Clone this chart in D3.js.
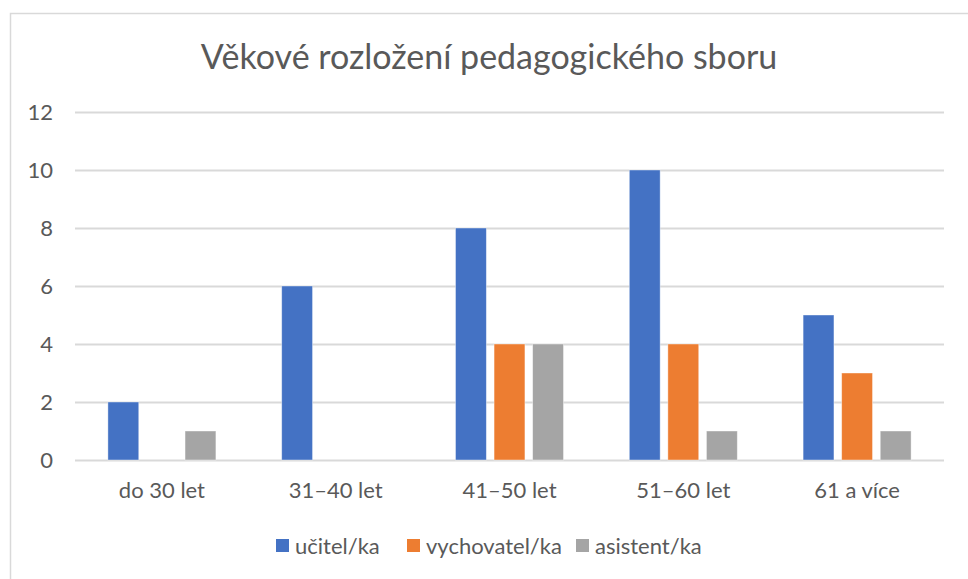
<!DOCTYPE html>
<html>
<head>
<meta charset="utf-8">
<script src="https://cdn.jsdelivr.net/npm/d3@7"></script>
<style>
  html, body { margin: 0; padding: 0; background: #fff; }
  svg { display: block; }
</style>
</head>
<body>
<svg id="chart" width="968" height="579"></svg>
<script>
// Data
const categories = ['do 30 let', '31–40 let', '41–50 let', '51–60 let', '61 a více'];
const seriesNames = ['učitel/ka', 'vychovatel/ka', 'asistent/ka'];
const ucitel = [2, 6, 8, 10, 5];
const vychovatel = [0, 0, 4, 4, 3];
const asistent = [1, 0, 4, 1, 1];
const yTicks = [0, 2, 4, 6, 8, 10, 12];
const colors = ['#4472C4', '#ED7D31', '#A5A5A5'];

const seriesValues = [ucitel, vychovatel, asistent];

const width = 968, height = 579;
const margins = { top: 112, right: 24, bottom: 119, left: 75 };
const font = 'Lato, "Open Sans", sans-serif';
const textColor = '#595959';
const gridColor = '#D9D9D9';

const translate = (x, y) => `translate(${x}, ${y})`;

const svg = d3.select('#chart');

// Chart frame (right and bottom edges fall outside the picture)
svg.append('rect')
    .attr('x', 10.5)
    .attr('y', 13.5)
    .attr('width', 1000)
    .attr('height', 1000)
    .attr('fill', '#fff')
    .attr('stroke', gridColor)
    .attr('stroke-width', 1.5);

// Title
svg.append('text')
    .attr('x', 489)
    .attr('y', 69)
    .attr('text-anchor', 'middle')
    .attr('font-family', font)
    .attr('font-size', 34)
    .attr('fill', textColor)
    .text('Věkové rozložení pedagogického sboru');

// Scales
const x0 = d3.scaleBand()
    .domain(categories)
    .range([margins.left, width - margins.right]);

const groupWidth = 108;
const x1 = d3.scaleBand()
    .domain(seriesNames)
    .range([(x0.bandwidth() - groupWidth) / 2, (x0.bandwidth() + groupWidth) / 2])
    .paddingInner(0.2);

const y = d3.scaleLinear()
    .domain([0, 12])
    .range([height - margins.bottom, margins.top]);

// Gridlines + y labels
const yAxis = d3.axisLeft(y)
    .tickValues(yTicks)
    .tickSize(-(width - margins.left - margins.right))
    .tickPadding(22)
    .tickFormat(d3.format('d'));

svg.append('g')
    .attr('transform', translate(margins.left, 0))
    .call(yAxis)
    .call(g => g.select('.domain').remove())
    .call(g => g.selectAll('.tick line')
        .attr('stroke', gridColor)
        .attr('stroke-width', 2))
    .call(g => g.selectAll('.tick text')
        .attr('fill', textColor)
        .attr('font-family', font)
        .attr('font-size', 22));

// Bars
const groups = svg.append('g')
    .selectAll('g.cat')
    .data(categories)
    .join('g')
    .attr('class', 'cat')
    .attr('transform', d => translate(x0(d), 0));

groups.selectAll('rect')
    .data((c, ci) => seriesNames.map((s, si) => ({ s, si, v: seriesValues[si][ci] })))
    .join('rect')
    .filter(d => d.v > 0)
    .attr('x', d => x1(d.s))
    .attr('y', d => y(d.v))
    .attr('width', x1.bandwidth())
    .attr('height', d => y(0) - y(d.v))
    .attr('fill', d => colors[d.si])
    .attr('stroke', '#fff')
    .attr('stroke-opacity', 0.5)
    .attr('stroke-width', 0.8);

// X labels
const xAxis = d3.axisBottom(x0).tickSize(0).tickPadding(22);
svg.append('g')
    .attr('transform', translate(0, height - margins.bottom))
    .call(xAxis)
    .call(g => g.select('.domain').remove())
    .call(g => g.selectAll('.tick text')
        .attr('fill', textColor)
        .attr('font-family', font)
        .attr('font-size', 22));

// Legend
const legendX = [276, 407, 576];
const legend = svg.append('g')
    .selectAll('g')
    .data(seriesNames)
    .join('g')
    .attr('transform', (d, i) => translate(legendX[i], 546));

legend.append('rect')
    .attr('x', 0)
    .attr('y', -7)
    .attr('width', 13)
    .attr('height', 13)
    .attr('fill', (d, i) => colors[i]);

legend.append('text')
    .attr('x', 19)
    .attr('y', 0)
    .attr('dy', '0.35em')
    .attr('font-family', font)
    .attr('font-size', 22)
    .attr('fill', textColor)
    .text(d => d);
</script>
</body>
</html>
